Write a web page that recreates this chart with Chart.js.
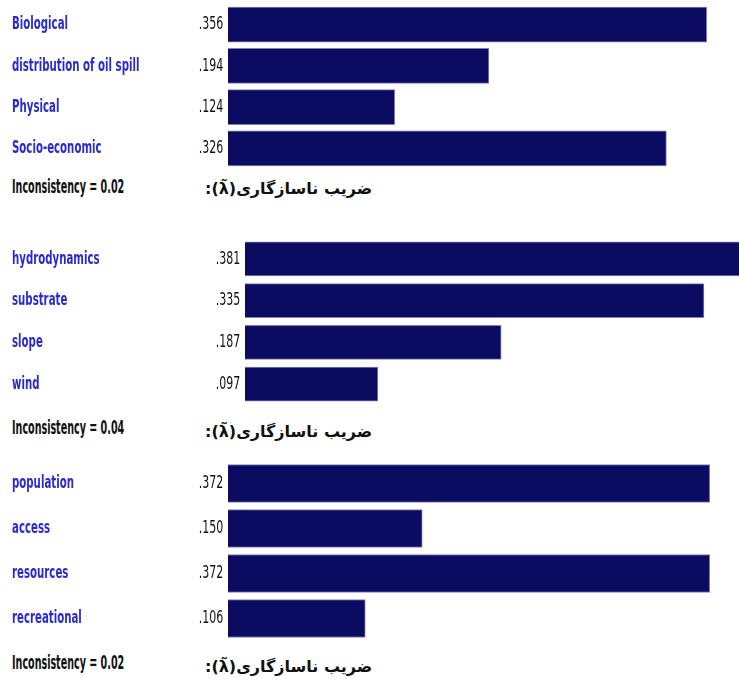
<!DOCTYPE html>
<html>
<head>
<meta charset="utf-8">
<script src="https://cdn.jsdelivr.net/npm/chart.js@4.4.1/dist/chart.umd.min.js"></script>
<style>
  body { margin: 0; background: #fff; width: 739px; height: 682px; position: relative; overflow: hidden; }
  .panel { position: absolute; left: 0; }
  .incons { position: absolute; left: 12px; font: bold 19px 'DejaVu Sans', sans-serif; font-stretch: condensed; color: #111; transform: scaleX(0.56); transform-origin: left top; white-space: nowrap; }
  .farsi { position: absolute; font: bold 16px 'DejaVu Sans', sans-serif; color: #111; direction: rtl; }
</style>
</head>
<body>
<canvas id="c1" class="panel" width="739" height="172" style="top:0px"></canvas>
<canvas id="c2" class="panel" width="739" height="172" style="top:236px"></canvas>
<canvas id="c3" class="panel" width="739" height="184" style="top:459px"></canvas>

<div class="incons" style="top:175px">Inconsistency = 0.02</div>
<div class="farsi" style="top:179px; left:205px">ضریب ناسازگاری(λ̃):</div>
<div class="incons" style="top:416px">Inconsistency = 0.04</div>
<div class="farsi" style="top:422px; left:205px">ضریب ناسازگاری(λ̃):</div>
<div class="incons" style="top:651px">Inconsistency = 0.02</div>
<div class="farsi" style="top:657px; left:205px">ضریب ناسازگاری(λ̃):</div>

<script>
// panel 1 - criteria
const labels1 = ['Biological', 'distribution of oil spill', 'Physical', 'Socio-economic'];
const values1 = [0.356, 0.194, 0.124, 0.326];
// panel 2 - physical
const labels2 = ['hydrodynamics', 'substrate', 'slope', 'wind'];
const values2 = [0.381, 0.335, 0.187, 0.097];
// panel 3 - socio-economic
const labels3 = ['population', 'access', 'resources', 'recreational'];
const values3 = [0.372, 0.150, 0.372, 0.106];

const fam = "'DejaVu Sans', sans-serif";
const fmt = v => v.toFixed(3).replace(/^0/, '');

// the original uses a very narrow font: squeeze the tick labels horizontally
function squeeze(scale, k, side) {
    if (!scale || scale._squeezed) return;
    scale._squeezed = true;
    const orig = scale.drawLabels;
    scale.drawLabels = function(area) {
        const ctx = this.ctx;
        const x0 = side === 'left' ? this.left : this.right;
        const l = this.left, r = this.right;
        // widen the box so the label clip is not squeezed with the text
        if (side === 'left') this.right = l + (r - l) / k;
        else this.left = r - (r - l) / k;
        ctx.save();
        ctx.translate(x0, 0);
        ctx.scale(k, 1);
        ctx.translate(-x0, 0);
        orig.call(this, area);
        ctx.restore();
        this.left = l;
        this.right = r;
    };
}

const narrowLabels = {
    id: 'narrowLabels',
    afterLayout(chart) {
        squeeze(chart.scales.y, 0.63, 'left');
        squeeze(chart.scales.yv, 0.68, 'right');
    }
};

function noPad(s, w) {
    s.width = w;
    s.paddingTop = 0;
    s.paddingBottom = 0;
}

function makeChart(id, labels, values, opts) {
    new Chart(document.getElementById(id).getContext('2d'), {
        type: 'bar',
        data: {
            labels: labels,
            datasets: [{
                data: values,
                backgroundColor: '#0b0b62',
                borderColor: '#8080c0',
                borderWidth: 1,
                barThickness: opts.thick
            }]
        },
        options: {
            indexAxis: 'y',
            responsive: false,
            animation: false,
            layout: { padding: { left: 12, right: 0, top: opts.top, bottom: opts.bottom } },
            plugins: { legend: { display: false }, tooltip: { enabled: false } },
            scales: {
                x: {
                    display: false,
                    min: 0,
                    max: opts.max
                },
                y: {
                    position: 'left',
                    weight: 2,
                    offset: true,
                    grid: { display: false, drawTicks: false },
                    border: { display: false },
                    ticks: {
                        crossAlign: 'far',
                        color: '#2a2ad2',
                        font: { family: fam, size: 18, weight: 'bold condensed' }
                    },
                    afterFit: s => noPad(s, 170)
                },
                yv: {
                    type: 'category',
                    position: 'left',
                    weight: 1,
                    offset: true,
                    labels: values.map(fmt),
                    grid: { display: false, drawTicks: false },
                    border: { display: false },
                    ticks: {
                        padding: 7,
                        color: '#111',
                        font: { family: fam, size: 18, weight: 'condensed' }
                    },
                    afterFit: s => noPad(s, opts.valW)
                }
            }
        },
        plugins: [narrowLabels]
    });
}

makeChart('c1', labels1, values1, { max: 0.38, thick: 35, valW: 46, top: 4, bottom: 3 });
makeChart('c2', labels2, values2, { max: 0.3606, thick: 34, valW: 63, top: 2, bottom: 3 });
makeChart('c3', labels3, values3, { max: 0.3946, thick: 38, valW: 46, top: 2, bottom: 2 });
</script>
</body>
</html>
